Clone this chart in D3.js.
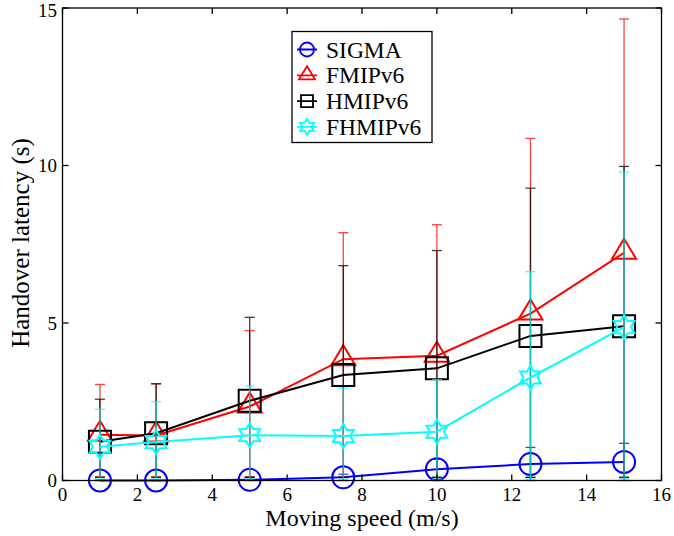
<!DOCTYPE html>
<html><head><meta charset="utf-8">
<script src="https://cdn.jsdelivr.net/npm/d3@7"></script>
<style>body{margin:0;background:#fff}svg{display:block}text{font-family:"Liberation Serif","Times New Roman",serif;fill:#000}</style>
</head><body><svg id="c" width="674" height="536"></svg>
<script>
const speeds = [1, 2.5, 5, 7.5, 10, 12.5, 15];
const seriesNames = ["SIGMA", "FMIPv6", "HMIPv6", "FHMIPv6"];
const sigma      = [0.0, 0.0, 0.02, 0.1, 0.36, 0.52, 0.59];
const sigmaLow   = [0.0, 0.0, 0.0, 0.0, 0.0, 0.0, 0.0];
const sigmaHigh  = [0.02, 0.02, 0.1, 0.2, 0.68, 1.05, 1.18];
const fmip       = [1.45, 1.43, 2.35, 3.85, 3.96, 5.3, 7.23];
const fmipLow    = [0.12, 0.12, 0.12, 0.12, 0.1, 0.1, 0.1];
const fmipHigh   = [3.05, 3.07, 4.76, 7.87, 8.12, 10.86, 14.65];
const hmip       = [1.23, 1.5, 2.53, 3.35, 3.56, 4.59, 4.9];
const hmipLow    = [0.1, 0.1, 0.1, 0.1, 0.1, 0.1, 0.1];
const hmipHigh   = [2.58, 3.07, 5.18, 6.82, 7.3, 9.28, 9.97];
const fhmip      = [1.07, 1.22, 1.44, 1.41, 1.55, 3.27, 4.87];
const fhmipLow   = [0.05, 0.05, 0.05, 0.05, 0.05, 0.05, 0.05];
const fhmipHigh  = [2.26, 2.5, 3.0, 2.93, 3.2, 6.63, 9.79];
const xTicks = [0, 2, 4, 6, 8, 10, 12, 14, 16];
const yTicks = [0, 5, 10, 15];
const colors = ["#0000ff", "#ff0000", "#000000", "#00ffff"];
const shapes = ["circle", "triangle", "square", "hexagram"];

const svg = d3.select("#c");
const L = 62.5, R = 661.5, T = 8, B = 480.5;
const x = d3.scaleLinear().domain([0, 16]).range([L, R]);
const y = d3.scaleLinear().domain([0, 15]).range([B, T]);

const series = [
  {name: seriesNames[0], v: sigma, lo: sigmaLow, hi: sigmaHigh},
  {name: seriesNames[1], v: fmip, lo: fmipLow, hi: fmipHigh},
  {name: seriesNames[2], v: hmip, lo: hmipLow, hi: hmipHigh},
  {name: seriesNames[3], v: fhmip, lo: fhmipLow, hi: fhmipHigh}
];

function markerPath(shape) {
  if (shape === "circle") return d3.arc()({innerRadius: 0, outerRadius: 11, startAngle: 0, endAngle: 2 * Math.PI});
  if (shape === "triangle") return "M0,-14L12,6L-12,6Z";
  if (shape === "square") return "M-11,-11H11V11H-11Z";
  const pts = [];
  for (let i = 0; i < 12; i++) {
    const r = i % 2 === 0 ? 12 : 7;
    const a = -Math.PI / 2 + i * Math.PI / 6;
    pts.push([r * Math.cos(a), r * Math.sin(a)]);
  }
  return "M" + pts.map(p => p.join(",")).join("L") + "Z";
}
function legendPath(shape) {
  if (shape === "circle") return d3.arc()({innerRadius: 0, outerRadius: 7, startAngle: 0, endAngle: 2 * Math.PI}) + "M-10,0H10";
  if (shape === "triangle") return "M0,-9L8,4L-8,4ZM-10,0H10";
  if (shape === "square") return "M-6,-6H6V6H-6ZM-10,0H10";
  const pts = [];
  for (let i = 0; i < 12; i++) {
    const r = i % 2 === 0 ? 8 : 4.6;
    const a = -Math.PI / 2 + i * Math.PI / 6;
    pts.push([r * Math.cos(a), r * Math.sin(a)]);
  }
  return "M" + pts.map(p => p.join(",")).join("L") + "ZM-10,0H10";
}

const plot = svg.append("g");
const line = d3.line().x((d, i) => x(speeds[i])).y(d => y(d));
series.forEach((s, k) => {
  const g = plot.append("g");
  speeds.forEach((sp, i) => {
    const eb = g.append("g").attr("stroke", colors[k]).attr("stroke-width", 1.3).attr("opacity", 0.75);
    eb.append("line").attr("x1", x(sp)).attr("x2", x(sp)).attr("y1", y(s.lo[i])).attr("y2", y(s.hi[i]));
    eb.append("line").attr("x1", x(sp) - 5).attr("x2", x(sp) + 5).attr("y1", y(s.lo[i])).attr("y2", y(s.lo[i]));
    eb.append("line").attr("x1", x(sp) - 5).attr("x2", x(sp) + 5).attr("y1", y(s.hi[i])).attr("y2", y(s.hi[i]));
  });
  g.append("path").attr("d", line(s.v)).attr("fill", "none").attr("stroke", colors[k]).attr("stroke-width", 2);
  speeds.forEach((sp, i) => {
    g.append("path").attr("d", markerPath(shapes[k]))
      .attr("transform", `translate(${x(sp)},${y(s.v[i])})`)
      .attr("fill", "none").attr("stroke", colors[k]).attr("stroke-width", 2);
  });
});

const ax = svg.append("g").attr("stroke", "#000").attr("stroke-width", 1.3);
ax.append("rect").attr("x", L).attr("y", T).attr("width", R - L).attr("height", B - T).attr("fill", "none");
xTicks.forEach(t => {
  ax.append("line").attr("x1", x(t)).attr("x2", x(t)).attr("y1", B).attr("y2", B - 6);
  ax.append("line").attr("x1", x(t)).attr("x2", x(t)).attr("y1", T).attr("y2", T + 6);
});
yTicks.forEach(t => {
  ax.append("line").attr("x1", L).attr("x2", L + 6).attr("y1", y(t)).attr("y2", y(t));
  ax.append("line").attr("x1", R).attr("x2", R - 6).attr("y1", y(t)).attr("y2", y(t));
});
svg.append("g").selectAll("text").data(xTicks).join("text")
  .attr("x", d => x(d)).attr("y", 501).attr("text-anchor", "middle").attr("font-size", 19).text(d => d);
svg.append("g").selectAll("text").data(yTicks).join("text")
  .attr("x", 57).attr("y", d => Math.max(y(d) + 6.5, 17)).attr("text-anchor", "end").attr("font-size", 19).text(d => d);

svg.append("text").attr("x", 362).attr("y", 526).attr("text-anchor", "middle").attr("font-size", 24).text("Moving speed (m/s)");
svg.append("text").attr("transform", "translate(29,243) rotate(-90)").attr("text-anchor", "middle").attr("font-size", 25).text("Handover latency (s)");

const lg = svg.append("g");
lg.append("rect").attr("x", 292).attr("y", 31.5).attr("width", 140).attr("height", 111).attr("fill", "#fff").attr("stroke", "#000").attr("stroke-width", 1.3);
series.forEach((s, k) => {
  const yy = 49.5 + k * 25.8;
  lg.append("path").attr("d", legendPath(shapes[k])).attr("transform", `translate(307,${yy})`)
    .attr("fill", "none").attr("stroke", colors[k]).attr("stroke-width", 1.8);
  lg.append("text").attr("x", 326).attr("y", yy + 8).attr("font-size", 23.5).text(s.name);
});
</script></body></html>
